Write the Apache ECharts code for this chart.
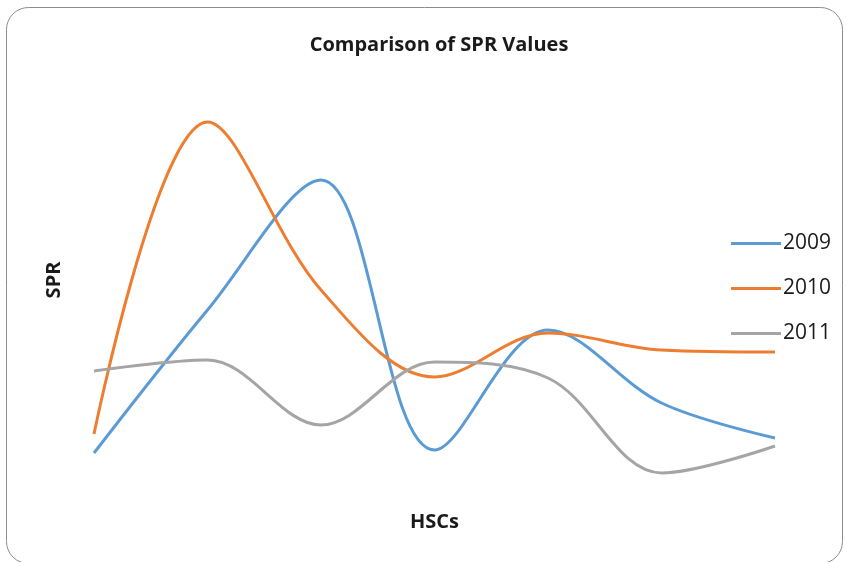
<!DOCTYPE html>
<html>
<head>
<meta charset="utf-8">
<script src="https://cdn.jsdelivr.net/npm/echarts@6/dist/echarts.min.js"></script>
<style>
  html, body { margin: 0; padding: 0; background: #fff; }
  #main { width: 847px; height: 562px; }
</style>
</head>
<body>
<div id="main"></div>
<script>
// HSC categories (no labels shown on the original axis)
const categories = ['1', '2', '3', '4', '5', '6', '7'];
const spr2009 = [6.75, 42.5, 75, 7.5, 37.5, 19.25, 10.5];
const spr2010 = [11.5, 89.5, 47.5, 25.75, 36.75, 32.5, 32];
const spr2011 = [27.25, 30, 13.75, 29.5, 25.5, 1.75, 8.5];

const fontFamily = '"Open Sans", "Noto Sans", sans-serif';

const myChart = echarts.init(document.getElementById('main'));

const lineSeries = (name, data, color) => ({
  name,
  type: 'line',
  smooth: 0.35,
  symbol: 'none',
  data,
  lineStyle: { color, width: 3 },
  itemStyle: { color }
});

myChart.setOption({
  animation: false,
  title: {
    text: 'Comparison of SPR Values',
    left: 434,
    top: 30,
    textAlign: 'center',
    textStyle: { fontFamily, fontSize: 20, fontWeight: 'bold', color: '#1a1a1a' }
  },
  legend: {
    orient: 'vertical',
    left: 726,
    top: 228,
    icon: 'rect',
    itemWidth: 50,
    itemHeight: 3,
    itemGap: 24,
    textStyle: { fontFamily, fontSize: 21, color: '#1a1a1a', padding: [0, 0, 0, -3] },
    data: ['2009', '2010', '2011']
  },
  grid: { left: 94, right: 72, top: 80, bottom: 82 },
  xAxis: {
    type: 'category',
    data: categories,
    boundaryGap: false,
    axisLine: { show: false },
    axisTick: { show: false },
    axisLabel: { show: false },
    name: 'HSCs',
    nameLocation: 'middle',
    nameGap: 32,
    nameTextStyle: { fontFamily, fontSize: 20, fontWeight: 'bold', color: '#1a1a1a' }
  },
  yAxis: {
    type: 'value',
    min: 0,
    max: 100,
    axisLine: { show: false },
    axisTick: { show: false },
    axisLabel: { show: false },
    splitLine: { show: false },
    name: 'SPR',
    nameLocation: 'middle',
    nameGap: 30,
    nameTextStyle: { fontFamily, fontSize: 20, fontWeight: 'bold', color: '#1a1a1a' }
  },
  graphic: [{
    type: 'rect',
    shape: { x: 6.5, y: 7.5, width: 836, height: 556, r: 22 },
    style: { fill: 'none', stroke: '#8c8c8c', lineWidth: 1 },
    silent: true
  }],
  series: [
    lineSeries('2009', spr2009, '#5B9BD5'),
    lineSeries('2010', spr2010, '#ED7D31'),
    lineSeries('2011', spr2011, '#A5A5A5')
  ]
});
</script>
</body>
</html>
